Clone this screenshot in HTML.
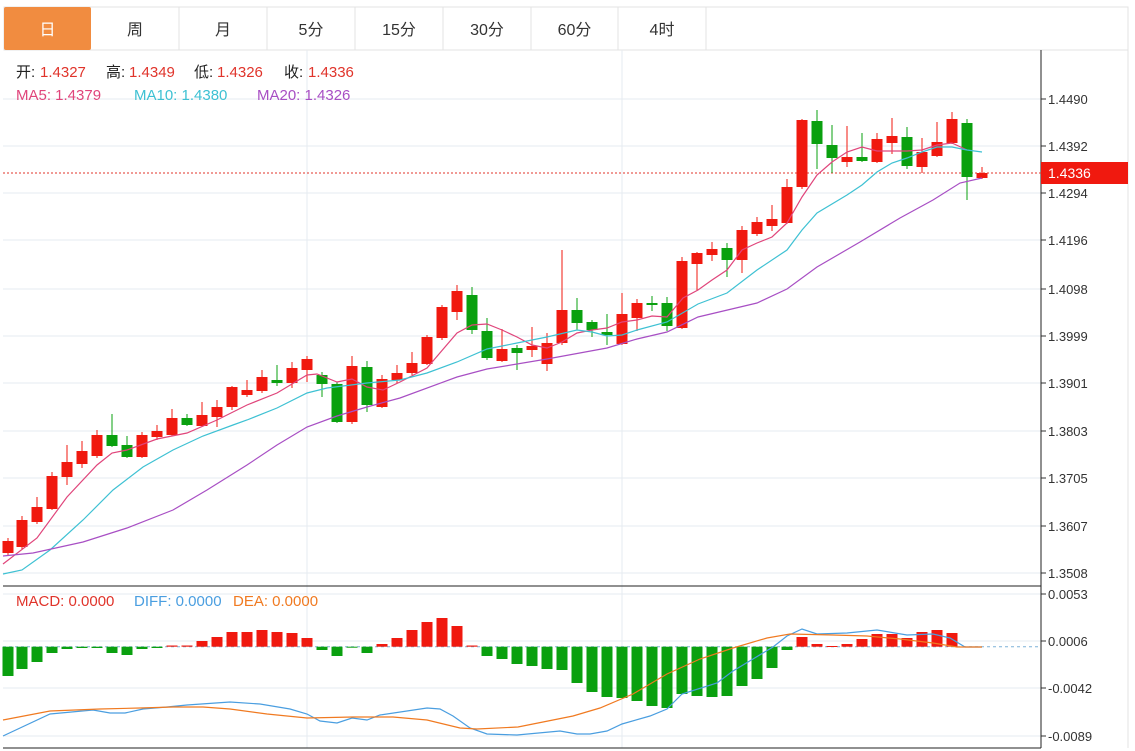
<!DOCTYPE html>
<html><head><meta charset="utf-8"><style>
body{margin:0;background:#fff;width:1135px;height:751px;overflow:hidden;font-family:"Liberation Sans","Noto Sans CJK SC",sans-serif;}
svg{position:absolute;left:0;top:0}
</style></head><body>
<svg id="s" width="1135" height="751" xmlns="http://www.w3.org/2000/svg" font-family="Liberation Sans, Noto Sans CJK SC, sans-serif"></svg>
<script>
var s=document.getElementById('s'),h='';
var R='#f0190f',G='#0aa00f';
var tabs=[[4,91,'日'],[91,179,'周'],[179,267,'月'],[267,355,'5分'],[355,443,'15分'],[443,531,'30分'],[531,618,'60分'],[618,706,'4时']];
h+='<rect x="4" y="7" width="1124" height="43" fill="#fff" stroke="#e3e3e3"/>';
tabs.forEach(function(t,i){
 if(i==0)h+='<rect x="4" y="7" width="87" height="43" rx="2" fill="#f18c40"/>';
 else h+='<line x1="'+t[1]+'" y1="7" x2="'+t[1]+'" y2="50" stroke="#e3e3e3"/>';
 h+='<text x="'+(t[0]+t[1])/2+'" y="35" font-size="16" text-anchor="middle" fill="'+(i==0?'#fff':'#333')+'">'+t[2]+'</text>';
});
var yl=[[99,'1.4490'],[146,'1.4392'],[193,'1.4294'],[240,'1.4196'],[289,'1.4098'],[336,'1.3999'],[383,'1.3901'],[431,'1.3803'],[478,'1.3705'],[526,'1.3607'],[573,'1.3508']];
yl.forEach(function(a){h+='<line x1="3" x2="1041" y1="'+a[0]+'" y2="'+a[0]+'" stroke="#e6ebf0"/><line x1="1041" x2="1046" y1="'+a[0]+'" y2="'+a[0]+'" stroke="#333"/><text x="1048" y="'+(a[0]+5)+'" font-size="13" fill="#333">'+a[1]+'</text>';});
var ml=[[594,'0.0053'],[641,'0.0006'],[688,'-0.0042'],[736,'-0.0089']];
ml.forEach(function(a){h+='<line x1="3" x2="1041" y1="'+a[0]+'" y2="'+a[0]+'" stroke="#e6ebf0"/><line x1="1041" x2="1046" y1="'+a[0]+'" y2="'+a[0]+'" stroke="#333"/><text x="1048" y="'+(a[0]+5)+'" font-size="13" fill="#333">'+a[1]+'</text>';});
[307,622].forEach(function(x){h+='<line x1="'+x+'" x2="'+x+'" y1="50" y2="748" stroke="#e6ebf0"/>';});
h+='<line x1="1128" x2="1128" y1="50" y2="748" stroke="#e3e3e3"/>';
h+='<line x1="1041" x2="1041" y1="50" y2="748" stroke="#222"/>';
h+='<line x1="3" x2="1041" y1="586" y2="586" stroke="#222"/><line x1="3" x2="1041" y1="748" y2="748" stroke="#222"/>';
h+='<line x1="3" x2="1041" y1="173" y2="173" stroke="#e0342b" stroke-dasharray="2,2"/>';
h+='<rect x="1041" y="162" width="87" height="22" fill="#f0190f"/><text x="1048" y="178" font-size="14" fill="#fff">1.4336</text>';
var C=[[8,541,553,538,556,R],[22,520,547,516,549,R],[37,507,522,497,524,R],[52,476,509,472,510,R],[67,462,477,445,485,R],[82,451,464,441,468,R],[97,435,456,430,458,R],[112,435,446,414,447,G],[127,445,457,436,458,G],[142,435,457,432,458,R],[157,431,437,425,440,R],[172,418,435,409,436,R],[187,418,425,414,426,G],[202,415,426,402,427,R],[217,407,417,400,427,R],[232,387,407,386,410,R],[247,390,395,380,397,R],[262,377,391,370,393,R],[277,380,383,365,386,G],[292,368,383,362,388,R],[307,359,370,356,382,R],[322,375,384,372,397,G],[337,384,422,382,423,G],[352,366,422,356,424,R],[367,367,405,361,412,G],[382,379,407,375,408,R],[397,373,380,365,383,R],[412,363,373,352,375,R],[427,337,364,335,365,R],[442,307,338,305,340,R],[457,291,312,285,320,R],[472,295,330,287,334,G],[487,331,358,318,360,G],[502,349,361,329,362,R],[517,348,353,345,370,G],[532,346,350,327,357,R],[547,343,364,333,371,R],[562,310,343,250,345,R],[577,310,323,298,330,G],[592,322,330,320,337,G],[607,332,335,314,345,G],[622,314,344,293,345,R],[637,303,318,299,331,R],[652,303,305,296,311,G],[667,303,326,297,331,G],[682,261,328,257,329,R],[697,253,264,252,290,R],[712,249,255,242,261,R],[727,248,260,243,277,G],[742,230,260,226,273,R],[757,222,234,217,236,R],[772,219,226,205,231,R],[787,187,223,179,224,R],[802,120,187,119,189,R],[817,121,144,110,169,G],[832,145,158,125,173,G],[847,157,162,126,167,R],[862,157,161,133,162,G],[877,139,162,133,163,R],[892,136,143,118,154,R],[907,137,166,127,169,G],[922,152,167,138,173,R],[937,142,156,122,157,R],[952,119,143,112,144,R],[967,123,177,119,200,G],[982,173,178,167,179,R]];
C.forEach(function(c){h+='<line x1="'+c[0]+'" x2="'+c[0]+'" y1="'+c[3]+'" y2="'+c[4]+'" stroke="'+c[5]+'"/><rect x="'+(c[0]-5.5)+'" y="'+c[1]+'" width="11" height="'+Math.max(1.5,c[2]-c[1])+'" fill="'+c[5]+'"/>';});
function pl(p,col){h+='<polyline fill="none" stroke="'+col+'" stroke-width="1.2" points="'+p+'"/>';}
pl('3,564 37,538 67,497 97,465 112,453 127,450 157,439 187,433 217,420 247,405 277,393 307,375 317,374 337,382 352,379 367,387 383,390 400,382 427,368 457,333 472,325 487,324 502,330 517,337 532,345 547,348 562,342 577,333 592,330 607,328 622,322 637,320 652,316 667,317 683,298 698,290 712,280 727,270 742,250 757,243 772,237 787,223 802,197 817,175 832,162 847,152 862,147 877,151 892,151 907,151 922,150 937,145 952,143 967,150','#e0457b');
pl('3,574 22,570 50,550 83,520 113,490 143,467 173,450 203,436 233,425 247,420 277,408 307,393 327,388 367,383 400,380 427,373 457,362 487,349 517,343 547,337 577,330 592,332 607,336 622,335 637,330 667,322 698,304 727,293 757,270 787,250 802,230 817,213 847,195 862,185 877,172 892,163 907,158 922,152 937,147 952,147 967,150 982,152','#3ec1d3');
pl('3,556 33,553 83,542 127,528 173,510 207,490 247,465 277,445 307,427 337,416 367,407 400,398 457,377 487,369 547,359 607,348 637,339 667,332 698,317 757,303 787,289 817,267 860,242 900,218 933,200 960,183 982,178','#a84fc4');
var M=[[8,676],[22,669],[37,662],[52,653],[67,649],[82,648],[97,648],[112,653],[127,655],[142,649],[157,648],[172,645.5],[187,645.5],[202,641],[217,637],[232,632],[247,632],[262,630],[277,632],[292,633],[307,638],[322,650],[337,656],[352,647.5],[367,653],[382,644],[397,638],[412,630],[427,622],[442,618],[457,626],[472,645.5],[487,656],[502,659],[517,664],[532,666],[547,669],[562,670],[577,683],[592,692],[607,697],[622,698],[637,701],[652,706],[667,708],[682,694],[697,696],[712,697],[727,696],[742,686],[757,679],[772,668],[787,650],[802,637],[817,644],[832,646],[847,644],[862,639],[877,634],[892,634],[907,638],[922,632],[937,630],[952,633]];
var z=646.7;
h+='<line x1="3" x2="1041" y1="'+z+'" y2="'+z+'" stroke="#7fb2d8" stroke-dasharray="3,3"/>';
M.forEach(function(m){var t=Math.min(m[1],z),b=Math.max(m[1],z);h+='<rect x="'+(m[0]-5.5)+'" y="'+t+'" width="11" height="'+Math.max(1,b-t)+'" fill="'+(m[1]<z?R:G)+'"/>';});
pl('3,736 50,714 93,710 110,713 125,713 143,709 167,707 187,705 230,702 260,704 290,709 307,714 320,721 337,723 352,718 367,720 380,715 427,708 440,709 453,716 470,728 487,734 517,735 560,731 577,734 590,734 607,731 622,724 650,716 667,709 682,694 717,683 733,671 753,659 773,647 787,636 802,629 817,634 847,633 877,630 907,635 933,634 950,638 965,647 982,647','#4a9ee0');
pl('3,720 50,711 100,709 140,708 173,707 203,707 230,709 267,714 307,718 353,717 393,717 427,720 460,728 477,729 518,727 533,724 573,716 600,708 633,694 667,674 700,659 733,648 767,638 790,634 833,635 867,636 900,639 933,643 957,647 982,647','#f07a21');
function t(x,y,str,col){h+='<text x="'+x+'" y="'+y+'" font-size="15" fill="'+col+'">'+str+'</text>';}
t(16,77,'开:','#222');t(40,77,'1.4327','#e0342b');
t(106,77,'高:','#222');t(129,77,'1.4349','#e0342b');
t(194,77,'低:','#222');t(217,77,'1.4326','#e0342b');
t(284,77,'收:','#222');t(308,77,'1.4336','#e0342b');
t(16,100,'MA5: 1.4379','#e0457b');t(134,100,'MA10: 1.4380','#3ec1d3');t(257,100,'MA20: 1.4326','#a84fc4');
t(16,606,'MACD: 0.0000','#e0342b');t(134,606,'DIFF: 0.0000','#4a9ee0');t(233,606,'DEA: 0.0000','#f07a21');
s.innerHTML=h;
</script>
</body></html>
